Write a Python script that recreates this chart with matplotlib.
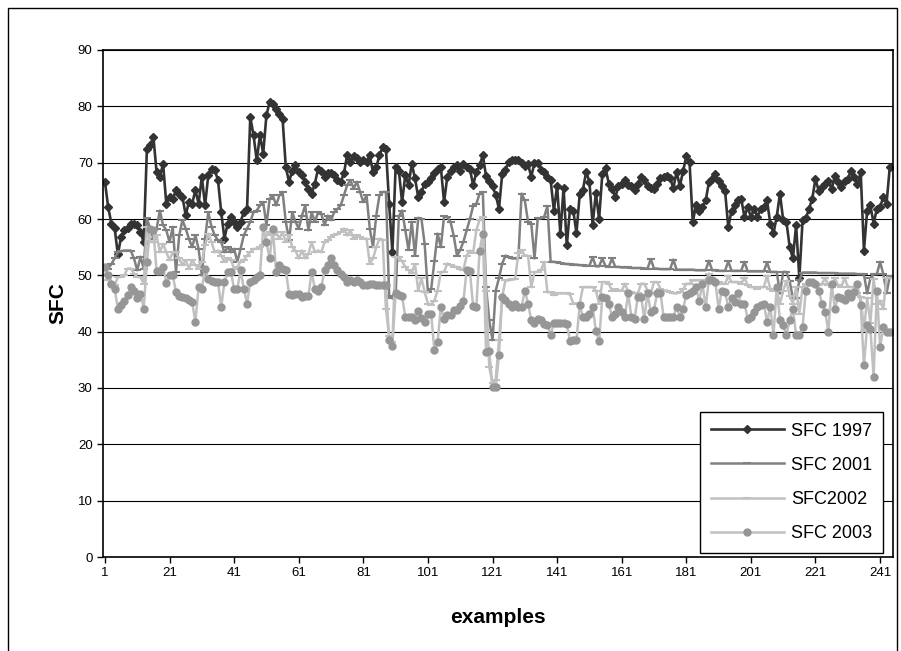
import numpy as np
import matplotlib
matplotlib.use("Agg")
import matplotlib.pyplot as plt
from matplotlib.patches import Rectangle

plt.rcParams['font.family'] = ['Liberation Sans', 'DejaVu Sans']

# values, one per example (1..244)
sfc_1997 = [
    66.6, 62.1, 59.2, 58.4, 53.7, 56.8, 58.0, 58.4, 59.2, 59.2,
    58.9, 57.7, 55.9, 72.5, 73.1, 74.6, 68.3, 67.5, 69.8, 62.7,
    63.9, 63.6, 65.1, 64.5, 63.9, 60.7, 63.0, 62.7, 65.1, 62.7,
    67.5, 62.4, 67.8, 68.8, 68.7, 66.9, 61.2, 56.5, 59.2, 60.4,
    59.5, 58.6, 59.5, 61.2, 61.8, 78.1, 74.9, 70.4, 74.9, 71.6,
    78.4, 80.8, 80.5, 79.6, 78.7, 77.8, 69.2, 66.6, 68.6, 69.5,
    68.3, 67.8, 66.6, 65.4, 64.5, 66.3, 68.9, 68.6, 67.5, 68.1,
    68.1, 67.8, 66.9, 66.6, 68.1, 71.4, 70.2, 71.1, 70.8, 70.2,
    70.5, 70.2, 71.3, 68.3, 69.2, 71.3, 72.8, 72.5, 62.7, 54.1,
    69.2, 68.6, 63.0, 67.8, 66.0, 69.8, 67.2, 63.9, 64.8, 66.3,
    66.6, 67.2, 68.1, 68.9, 69.2, 63.0, 67.5, 68.6, 69.2, 69.5,
    68.6, 69.8, 69.2, 68.9, 66.0, 68.3, 69.5, 71.3, 67.6, 66.8,
    65.8, 64.3, 61.8, 68.0, 68.7, 70.2, 70.4, 70.4, 70.5, 70.0,
    69.4, 69.7, 67.5, 70.0, 70.0, 68.7, 68.4, 67.5, 66.9, 61.5,
    65.8, 57.4, 65.5, 55.3, 61.8, 61.5, 57.5, 64.4, 65.2, 68.4,
    66.6, 59.0, 64.6, 60.0, 68.0, 69.0, 66.3, 65.4, 63.9, 65.8,
    66.3, 67.0, 66.0, 65.8, 65.2, 66.3, 67.4, 67.0, 65.8, 65.5,
    65.4, 66.3, 67.2, 67.4, 67.7, 67.2, 65.5, 68.4, 65.8, 68.5,
    71.1, 70.1, 59.5, 62.4, 61.5, 62.1, 63.3, 66.5, 67.1, 68.0,
    66.8, 65.9, 65.0, 58.5, 61.5, 62.4, 63.3, 63.6, 60.4, 62.1,
    60.4, 61.8, 60.4, 61.8, 62.1, 63.3, 59.2, 57.5, 60.4, 64.5,
    59.8, 59.5, 55.1, 53.0, 58.9, 49.5, 59.8, 60.1, 61.8, 63.6,
    67.1, 65.0, 65.6, 66.2, 66.8, 65.3, 67.7, 66.5, 65.6, 66.8,
    67.1, 68.6, 67.4, 66.2, 68.3, 54.4, 61.5, 62.4, 59.2, 61.8,
    62.1, 63.9, 62.7, 69.2,
]

sfc_2001 = [
    51.5, 51.2, 52.0, 53.0, 54.1, 54.3, 54.4, 54.4, 54.4, 53.0,
    50.9, 53.3, 51.2, 60.1, 58.3, 56.5, 58.3, 61.5, 58.9, 58.0,
    55.9, 58.6, 50.6, 57.1, 59.8, 58.3, 56.5, 55.0, 57.1, 54.7,
    50.0, 56.5, 61.2, 58.6, 57.1, 56.2, 55.9, 54.1, 55.0, 54.1,
    54.7, 52.4, 54.7, 57.1, 58.3, 59.5, 61.2, 61.5, 62.4, 63.0,
    58.9, 63.6, 64.2, 62.4, 64.2, 64.8, 59.5, 56.2, 61.2, 59.5,
    58.3, 60.6, 62.4, 58.0, 61.2, 59.5, 61.2, 60.9, 58.9, 60.6,
    59.8, 61.2, 61.8, 62.4, 64.2, 66.0, 66.9, 65.4, 66.6, 64.8,
    63.0, 64.2, 58.3, 55.0, 60.6, 64.2, 64.8, 64.8, 46.4, 45.9,
    46.5, 60.5, 61.5, 58.0, 54.5, 59.5, 53.5, 60.2, 60.0, 55.5,
    47.0, 47.5, 52.5, 57.4, 55.0, 60.5, 60.3, 59.5, 57.0, 53.5,
    54.5, 56.0, 58.0, 60.0, 62.3, 62.7, 64.5, 64.8, 47.9, 42.0,
    38.5, 47.3, 49.5, 52.1, 53.5, 53.2, 53.0, 53.0, 53.0, 64.5,
    63.3, 59.5, 59.2, 53.0, 60.1, 60.1, 60.4, 62.3, 52.4, 52.4,
    52.3, 52.2, 52.1, 52.0, 52.0, 51.9, 51.9, 51.8, 51.8, 51.7,
    51.7, 53.2, 51.6, 51.6, 53.0, 51.6, 51.5, 53.0, 51.5, 51.5,
    51.4, 51.4, 51.4, 51.3, 51.3, 51.3, 51.3, 51.2, 51.2, 52.9,
    51.2, 51.2, 51.1, 51.1, 51.1, 51.1, 52.8, 51.0, 51.0, 51.0,
    51.0, 51.0, 51.0, 50.9, 50.9, 50.9, 50.9, 52.6, 50.9, 50.9,
    50.8, 50.8, 50.8, 52.5, 50.8, 50.8, 50.8, 50.8, 52.4, 50.7,
    50.7, 50.7, 50.7, 50.7, 50.7, 52.3, 50.6, 50.6, 50.6, 46.8,
    50.6, 50.6, 49.0, 45.9, 45.9, 49.1, 50.5, 50.5, 50.5, 50.5,
    50.5, 50.4, 50.4, 50.4, 50.4, 50.4, 50.4, 50.3, 50.3, 50.3,
    50.3, 50.3, 50.3, 50.2, 50.2, 50.2, 46.8, 49.5, 50.2, 50.2,
    52.4, 50.2, 46.8, 49.8,
]

sfc_2002 = [
    50.3, 49.1, 48.5, 48.2, 49.7, 49.7, 50.0, 51.2, 51.2, 50.3,
    49.7, 49.7, 48.5, 58.5, 56.0, 55.9, 57.1, 54.1, 55.6, 54.1,
    52.7, 54.1, 54.1, 53.0, 51.8, 52.7, 51.2, 52.7, 51.8, 51.2,
    52.4, 55.3, 57.4, 55.9, 54.1, 54.4, 53.5, 52.4, 53.0, 52.7,
    51.2, 51.5, 52.4, 52.7, 53.5, 54.1, 54.7, 54.7, 55.0, 55.3,
    57.1, 57.7, 57.1, 57.7, 56.5, 57.7, 55.9, 57.1, 55.0, 54.4,
    53.0, 54.4, 53.0, 53.8, 55.9, 54.1, 54.4, 54.1, 55.9, 56.2,
    56.8, 57.1, 57.4, 57.7, 58.3, 57.1, 58.0, 56.5, 57.1, 56.8,
    56.5, 56.5, 52.1, 53.0, 55.0, 56.5, 56.2, 44.1, 39.3, 38.2,
    53.2, 53.2, 52.5, 51.5, 50.9, 50.5, 52.0, 47.3, 49.5, 47.0,
    45.0, 44.8, 45.5, 47.3, 50.6, 50.6, 52.1, 51.8, 51.5, 51.5,
    51.2, 51.0, 53.5, 54.4, 54.0, 58.0, 59.9, 60.3, 47.2, 33.7,
    30.8, 31.5, 38.5, 46.2, 49.1, 49.1, 49.3, 49.3, 53.9, 54.5,
    53.5, 53.5, 47.9, 50.6, 50.6, 50.9, 52.4, 47.0, 47.0, 46.5,
    46.8, 46.8, 46.8, 46.8, 46.6, 45.0, 45.0, 45.0, 47.9, 47.9,
    47.9, 47.9, 47.3, 45.0, 48.8, 48.8, 48.5, 47.3, 47.5, 47.3,
    47.3, 48.5, 47.0, 47.0, 46.8, 46.8, 48.5, 48.5, 47.3, 46.8,
    48.8, 48.8, 47.6, 47.3, 47.3, 47.0, 46.8, 46.8, 47.0, 47.5,
    48.5, 48.5, 49.1, 49.1, 49.1, 49.1, 49.1, 50.3, 49.1, 48.8,
    48.8, 48.5, 48.5, 49.9, 48.8, 48.8, 48.8, 48.5, 49.6, 48.2,
    47.9, 47.9, 47.6, 47.9, 47.9, 49.9, 47.6, 47.3, 47.3, 45.0,
    47.3, 49.0, 46.4, 45.0, 47.9, 43.2, 47.9, 48.5, 48.5, 48.2,
    48.5, 48.2, 48.5, 49.5, 48.2, 48.0, 49.5, 48.2, 48.0, 49.5,
    48.0, 47.9, 47.9, 46.8, 46.2, 40.2, 46.0, 41.5, 49.4, 45.0,
    45.5, 44.0, 49.6, 49.5,
]

sfc_2003 = [
    51.5, 50.0, 48.5, 47.6, 44.1, 44.7, 45.4, 46.5, 47.9, 47.3,
    45.9, 46.7, 44.1, 52.4, 58.3, 58.0, 50.7, 50.7, 51.5, 48.7,
    50.0, 50.0, 47.0, 46.4, 46.2, 46.0, 45.7, 45.3, 41.7, 47.9,
    47.6, 51.2, 49.4, 49.0, 48.8, 48.8, 44.4, 48.8, 50.6, 50.6,
    47.6, 47.6, 50.9, 47.6, 45.0, 48.8, 49.1, 49.7, 50.0, 58.6,
    55.9, 53.0, 58.3, 50.6, 51.8, 51.2, 50.9, 46.7, 46.5, 46.7,
    46.7, 46.2, 46.4, 46.4, 50.6, 47.6, 47.3, 47.9, 50.9, 51.8,
    53.0, 51.8, 50.9, 50.3, 49.7, 48.8, 49.1, 48.8, 49.1, 48.8,
    48.2, 48.2, 48.5, 48.4, 48.2, 48.2, 48.2, 48.2, 38.5, 37.5,
    46.8, 46.5, 46.3, 42.6, 42.6, 42.6, 42.0, 43.6, 42.5, 41.8,
    43.2, 43.2, 36.7, 38.1, 44.4, 42.3, 43.0, 43.0, 43.9, 43.9,
    44.6, 45.5, 50.9, 50.7, 44.5, 44.4, 54.4, 57.4, 36.4, 36.5,
    30.2, 30.2, 35.8, 46.2, 45.6, 45.0, 44.4, 45.0, 44.4, 44.4,
    47.3, 45.0, 42.0, 41.5, 42.3, 42.0, 41.3, 41.2, 39.4, 41.5,
    41.5, 41.5, 41.5, 41.3, 38.4, 38.6, 38.6, 44.7, 42.6, 42.6,
    43.2, 44.4, 40.2, 38.3, 46.2, 45.9, 45.0, 42.6, 43.2, 44.4,
    43.5, 42.6, 46.9, 42.6, 42.3, 46.2, 46.2, 42.3, 46.8, 43.5,
    43.9, 46.9, 46.8, 42.6, 42.6, 42.6, 42.6, 44.4, 42.6, 44.1,
    46.5, 46.8, 47.3, 47.9, 45.5, 48.5, 44.4, 49.1, 49.1, 48.8,
    44.1, 47.3, 47.0, 44.4, 45.9, 45.2, 46.8, 45.0, 45.0, 42.3,
    42.6, 43.5, 44.4, 44.7, 45.0, 41.7, 44.4, 39.4, 47.9, 42.0,
    41.1, 39.4, 42.0, 44.1, 39.4, 39.4, 40.8, 47.3, 48.8, 48.8,
    48.5, 47.3, 45.0, 43.5, 40.0, 48.5, 44.1, 46.2, 46.0, 45.7,
    46.8, 46.2, 47.1, 48.5, 44.7, 34.0, 41.1, 40.5, 32.0, 47.3,
    37.2, 40.8, 40.0, 40.0,
]

x_ticks = list(range(1, 242, 20))
y_ticks = list(range(0, 91, 10))

examples = np.arange(1, len(sfc_1997) + 1)

fig = plt.figure(figsize=(9.01, 6.51), dpi=100)
ax = fig.add_axes([103/901, 1 - 557/651, 790/901, 507/651])

ax.plot(examples, sfc_1997, color='#333333', lw=1.9, marker='D', ms=4.5,
        label='SFC 1997')
ax.plot(examples, sfc_2001, color='#808080', lw=1.8, marker='_', ms=6, mew=1.5,
        label='SFC 2001')
ax.plot(examples, sfc_2002, color='#c0c0c0', lw=1.8, marker='_', ms=6, mew=1.5,
        label='SFC2002')
ax.plot(examples, sfc_2003, color='#c0c0c0', lw=1.8, marker='o', ms=5,
        mfc='#969696', mec='#969696', label='SFC 2003')

ax.set_xlim(0.4, 245)
ax.set_ylim(0, 90)
ax.set_xticks(x_ticks)
ax.set_yticks(y_ticks)
ax.tick_params(direction='out', length=4, width=1, labelsize=9.5, colors='black')
ax.yaxis.grid(True, color='black', lw=0.8)
ax.set_axisbelow(True)
for s in ax.spines.values():
    s.set_color('black')
    s.set_linewidth(1.2)

ax.set_xlabel('examples', fontsize=15, fontweight='bold')
ax.set_ylabel('SFC', fontsize=15, fontweight='bold')
ax.xaxis.set_label_coords(0.5, -0.1)
ax.yaxis.set_label_coords(-0.045, 0.5)

leg = ax.legend(loc='lower right', bbox_to_anchor=(0.987, 0.008), fontsize=13,
                frameon=True, fancybox=False, edgecolor='black', framealpha=1,
                handlelength=4.0, labelspacing=0.95, borderpad=0.6,
                handletextpad=0.4, borderaxespad=0)
leg.get_frame().set_linewidth(1)

# outer chart border
fig.patches.append(Rectangle((8/901, -0.01), 889/901, 1 - 8/651 + 0.01,
                             transform=fig.transFigure, fill=False,
                             ec='black', lw=1))

fig.savefig('out.png', dpi=100)
